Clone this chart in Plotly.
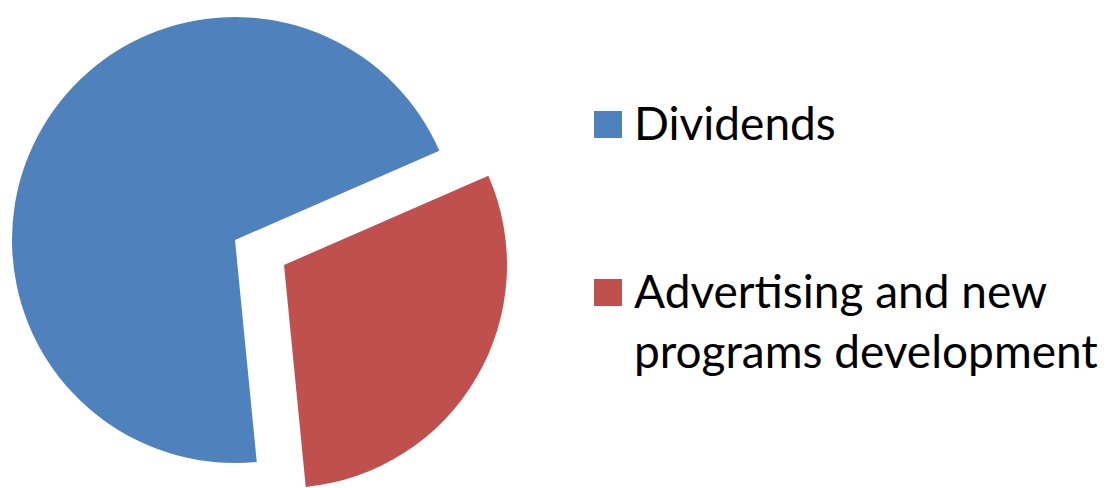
import plotly.graph_objects as go

# ---- data ----
labels = ["Dividends", "Advertising and new programs development"]
values = [70, 30]
colors = ["#4F81BD", "#C0504D"]
legend_text = ["Dividends", "Advertising and new<br>programs development"]

# page body has an 8px margin; the figure is sized to fill the rest of the window
OFF = 8
W, H = 1120 - OFF, 488 - OFF
FONT = "Lato, 'Open Sans', sans-serif"


def px(x):
    """window x pixel -> paper x"""
    return (x - OFF) / W


def py(y):
    """window y pixel (from top) -> paper y"""
    return 1 - (y - OFF) / H


def domain(cx, cy, r):
    """window-pixel centre and radius -> paper domain"""
    return dict(x=[max(0.0, px(cx - r)), min(1.0, px(cx + r))],
                y=[max(0.0, py(cy + r)), min(1.0, py(cy - r))])


ROT = 174.4
fig = go.Figure()

# main pie (Dividends shown, other slice left empty)
fig.add_trace(go.Pie(
    labels=labels, values=values, sort=False, direction="clockwise",
    rotation=ROT, textinfo="none", showlegend=False,
    marker=dict(colors=[colors[0], "rgba(0,0,0,0)"], line=dict(width=0)),
    domain=domain(235, 240, 223),
))
# exploded slice (Advertising and new programs development)
fig.add_trace(go.Pie(
    labels=labels, values=values, sort=False, direction="clockwise",
    rotation=ROT, textinfo="none", showlegend=False,
    marker=dict(colors=["rgba(0,0,0,0)", colors[1]], line=dict(width=0)),
    domain=domain(284, 265, 223),
))

# legend (square swatches + text)
sw_x0, sw_x1 = 594, 622
sw_y = [(111, 138), (279, 306)]
txt_y = [122, 261]
txt_anchor = ["middle", "top"]
shapes, annos = [], []
for i in range(len(labels)):
    y0, y1 = sw_y[i]
    shapes.append(dict(type="rect", xref="paper", yref="paper",
                       x0=px(sw_x0), x1=px(sw_x1),
                       y0=py(y1), y1=py(y0),
                       fillcolor=colors[i], line=dict(width=0)))
    annos.append(dict(xref="paper", yref="paper", x=px(632), y=py(txt_y[i]),
                      xanchor="left", yanchor=txt_anchor[i], align="left",
                      text=legend_text[i], showarrow=False,
                      font=dict(family=FONT, size=46, color="#000000")))

fig.update_layout(
    width=W, height=H,
    margin=dict(l=0, r=0, t=0, b=0),
    paper_bgcolor="white", plot_bgcolor="white",
    shapes=shapes, annotations=annos,
    showlegend=False,
)

fig.write_html("out.html")
